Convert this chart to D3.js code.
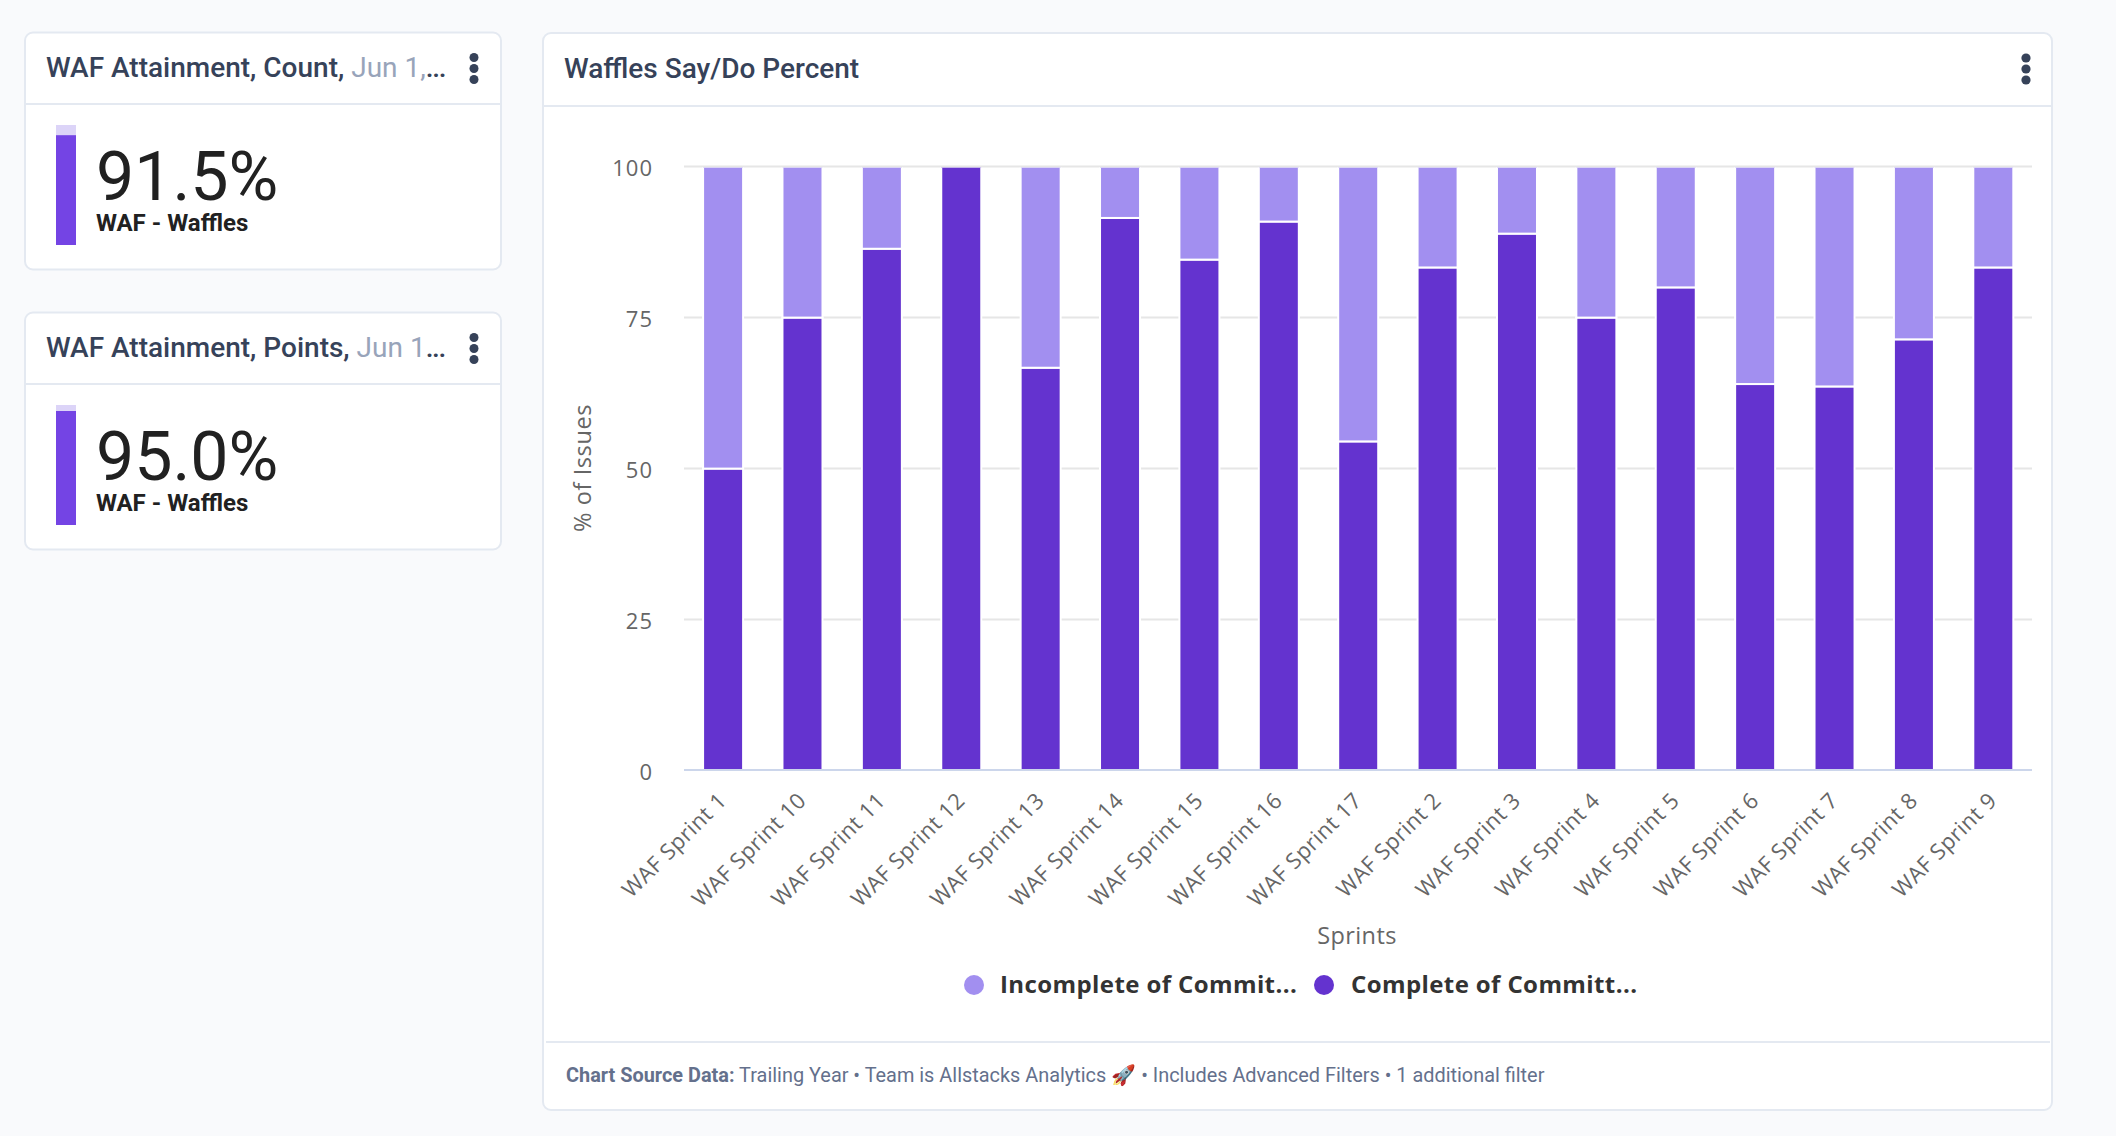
<!DOCTYPE html>
<html><head><meta charset="utf-8">
<script src="https://cdn.jsdelivr.net/npm/d3@7"></script>
<style>
html,body{margin:0;padding:0;background:#f9fafc;}
svg{display:block;}
text{font-family:Roboto,sans-serif;}
.hc text,.hc .tick text{font-family:"Open Sans",sans-serif;}
</style></head><body>
<svg id="c" width="2116" height="1136"></svg>
<script>
const sprints=["WAF Sprint 1","WAF Sprint 10","WAF Sprint 11","WAF Sprint 12","WAF Sprint 13","WAF Sprint 14","WAF Sprint 15","WAF Sprint 16","WAF Sprint 17","WAF Sprint 2","WAF Sprint 3","WAF Sprint 4","WAF Sprint 5","WAF Sprint 6","WAF Sprint 7","WAF Sprint 8","WAF Sprint 9"];
const complete=[50,75,86.4,100,66.7,91.5,84.6,90.9,54.5,83.3,88.9,75,80,64,63.6,71.4,83.3];
const incomplete=[50,25,13.6,0,33.3,8.5,15.4,9.1,45.5,16.7,11.1,25,20,36,36.4,28.6,16.7];
const yTicks=[0,25,50,75,100];
const legendLabels=["Incomplete of Commit...","Complete of Committ..."];
const kpiValues=[91.5,95.0];
const kpiTitles=["WAF Attainment, Count, ","WAF Attainment, Points, "];
const kpiDates=["Jun 1,","Jun 1"];

const DARK="#6433cf",LIGHT="#a28ff0",INK="#364259",BORDER="#e4e9f1";
const svg=d3.select("#c");

function card(x,y,w,h,lineY){
  svg.append("rect").attr("x",x).attr("y",y).attr("width",w).attr("height",h).attr("rx",8)
    .attr("fill","#fff").attr("stroke",BORDER).attr("stroke-width",2);
  svg.append("line").attr("x1",x).attr("x2",x+w).attr("y1",lineY).attr("y2",lineY)
    .attr("stroke",BORDER).attr("stroke-width",2);
}
function kebab(cx,ys,r){
  svg.append("g").selectAll("circle").data(ys).join("circle")
    .attr("cx",cx).attr("cy",d=>d).attr("r",r).attr("fill",INK);
}

/* KPI cards */
const kpiY=d3.scaleLinear().domain([0,100]);
kpiValues.forEach((v,i)=>{
  const off=i*280;
  card(25,32.5+off,476,237,104+off);
  const t=svg.append("text").attr("x",46).attr("y",77+off).attr("font-size",28).attr("font-weight",500).attr("fill",INK);
  t.append("tspan").text(kpiTitles[i]);
  t.append("tspan").attr("fill","#98a4ba").attr("font-weight",400).text(kpiDates[i]);
  t.append("tspan").attr("letter-spacing",-1.3).text("...");
  kebab(474,[57.5+off,68.5+off,79.5+off],4.5);
  kpiY.range([245+off,125+off]);
  svg.append("rect").attr("x",56).attr("width",20).attr("y",kpiY(100)).attr("height",kpiY(0)-kpiY(100)).attr("fill","#dcd4f8");
  svg.append("rect").attr("x",56).attr("width",20).attr("y",kpiY(v)).attr("height",kpiY(0)-kpiY(v)).attr("fill","#7444e4");
  svg.append("text").attr("x",96).attr("y",200+off).attr("font-size",68).attr("fill","#212121").text(v.toFixed(1)+"%");
  svg.append("text").attr("x",96).attr("y",231+off).attr("font-size",24).attr("font-weight",700).attr("fill","#212121").text("WAF - Waffles");
});

/* Main card */
card(543,33,1509,1077,106);
svg.append("text").attr("x",564).attr("y",78).attr("font-size",28).attr("font-weight",500).attr("fill",INK).text("Waffles Say/Do Percent");
kebab(2026,[58,69,80],4.6);
svg.append("line").attr("x1",546).attr("x2",2050).attr("y1",1042).attr("y2",1042).attr("stroke",BORDER).attr("stroke-width",2);

const x=d3.scaleBand().domain(sprints).range([683.4,2033]).paddingInner(.496).paddingOuter(.248);
const y=d3.scaleLinear().domain([0,100]).range([770.6,166.6]);
const hc=svg.append("g").attr("class","hc");

hc.append("g").selectAll("line").data(yTicks.filter(d=>d>0)).join("line")
  .attr("x1",684).attr("x2",2032).attr("y1",d=>y(d)).attr("y2",d=>y(d))
  .attr("stroke","#e6e6e6").attr("stroke-width",2);

hc.append("defs").append("clipPath").attr("id","plot").append("rect")
  .attr("x",684).attr("width",1348).attr("y",167.6).attr("height",604);

const rows=sprints.map((s,i)=>({s,complete:complete[i],incomplete:incomplete[i]}));
const stack=d3.stack().keys(["complete","incomplete"])(rows);
const color={complete:DARK,incomplete:LIGHT};
const bars=hc.append("g").attr("clip-path","url(#plot)");
bars.selectAll("g").data(stack).join("g").attr("fill",d=>color[d.key])
  .selectAll("rect").data(d=>d.filter(p=>p[1]>p[0])).join("rect")
  .attr("x",d=>x(d.data.s)).attr("width",x.bandwidth())
  .attr("y",d=>y(d[1])).attr("height",d=>y(d[0])-y(d[1]))
  .attr("stroke","#fff").attr("stroke-width",2);

hc.append("line").attr("x1",684).attr("x2",2032).attr("y1",770).attr("y2",770).attr("stroke","#ccd6eb").attr("stroke-width",2);

const yAxis=hc.append("g").attr("transform","translate(684,0)")
  .call(d3.axisLeft(y).tickValues(yTicks).tickSize(0).tickPadding(31));
yAxis.select(".domain").remove();
yAxis.selectAll("text").attr("font-size",22).attr("letter-spacing",1).attr("fill","#666").attr("dy","0.41em");

const xAxis=hc.append("g").attr("transform","translate(0,770)")
  .call(d3.axisBottom(x).tickSize(0).tickPadding(0));
xAxis.select(".domain").remove();
xAxis.selectAll("text").attr("font-size",22).attr("letter-spacing",0.5).attr("fill","#666")
  .attr("text-anchor","end").attr("dy",0)
  .attr("transform","translate(5,32) rotate(-45)").attr("y",0);

hc.append("text").attr("transform","translate(591,468) rotate(-90)").attr("text-anchor","middle")
  .attr("font-size",23.5).attr("letter-spacing",0.6).attr("fill","#666").text("% of Issues");
hc.append("text").attr("x",1357).attr("y",944).attr("text-anchor","middle")
  .attr("font-size",23.5).attr("letter-spacing",0.4).attr("fill","#666").text("Sprints");

const legend=[{c:LIGHT,cx:974,tx:1000,t:legendLabels[0]},{c:DARK,cx:1324,tx:1351,t:legendLabels[1]}];
const lg=hc.append("g").selectAll("g").data(legend).join("g");
lg.append("circle").attr("cx",d=>d.cx).attr("cy",985).attr("r",10).attr("fill",d=>d.c);
lg.append("text").attr("x",d=>d.tx).attr("y",993).attr("font-size",24).attr("letter-spacing",0.4).attr("font-weight",700).attr("fill","#333").text(d=>d.t);

const f=svg.append("text").attr("x",566).attr("y",1082).attr("font-size",19.9).attr("fill","#64708c");
f.append("tspan").attr("font-weight",700).text("Chart Source Data:");
f.append("tspan").text(" Trailing Year • Team is Allstacks Analytics 🚀 • Includes Advanced Filters • 1 additional filter");
</script>
</body></html>
